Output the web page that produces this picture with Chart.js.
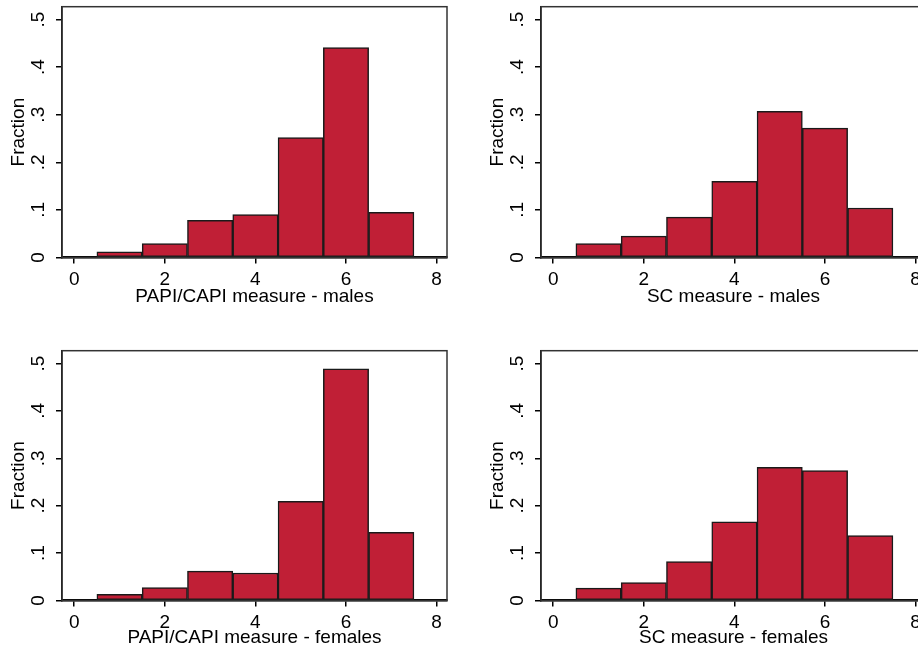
<!DOCTYPE html>
<html>
<head>
<meta charset="utf-8">
<script src="https://cdn.jsdelivr.net/npm/chart.js@4.4.1/dist/chart.umd.min.js"></script>
<style>
  html, body { margin: 0; padding: 0; background: #fff; width: 918px; height: 650px; overflow: hidden; position: relative; }
  canvas { position: absolute; }
</style>
</head>
<body>
<canvas id="c1"></canvas>
<canvas id="c2"></canvas>
<canvas id="c3"></canvas>
<canvas id="c4"></canvas>
<script>
// bin centres (width 1) and fractions
const bins = [1, 2, 3, 4, 5, 6, 7];
const papiMales   = [0.012, 0.029, 0.078, 0.090, 0.252, 0.441, 0.095];
const scMales     = [0.029, 0.045, 0.085, 0.160, 0.307, 0.272, 0.104];
const papiFemales = [0.013, 0.027, 0.062, 0.058, 0.209, 0.489, 0.144];
const scFemales   = [0.026, 0.038, 0.082, 0.166, 0.281, 0.274, 0.137];

const xTicks = [0, 2, 4, 6, 8];
const yTicks = [0, 0.1, 0.2, 0.3, 0.4, 0.5];
const yTickLabels = ['0', '.1', '.2', '.3', '.4', '.5'];

const FONT = { family: '"Liberation Sans", Arial, sans-serif', size: 19 };

// box round the plot region
const framePlugin = {
  id: 'frame',
  afterDraw(chart) {
    const { ctx, chartArea: a } = chart;
    ctx.save();
    ctx.strokeStyle = '#333';
    ctx.lineWidth = 1.5;
    ctx.strokeRect(a.left, a.top, a.right - a.left, a.bottom - a.top);
    ctx.restore();
  }
};

function makePanel(id, values, title, pos) {
  const cv = document.getElementById(id);
  cv.width = pos.w;
  cv.height = pos.h;
  cv.style.left = pos.left + 'px';
  cv.style.top = pos.top + 'px';

  new Chart(cv.getContext('2d'), {
    type: 'bar',
    data: {
      datasets: [{
        data: bins.map((b, i) => ({ x: b, y: values[i] })),
        backgroundColor: '#c01f36',
        borderColor: '#1a1a1a',
        borderWidth: 1.5,
        borderSkipped: false,
        barPercentage: 1,
        categoryPercentage: 1
      }]
    },
    options: {
      responsive: false,
      animation: false,
      layout: { padding: { top: pos.padTop, right: 13, left: 0, bottom: 0 } },
      plugins: { legend: { display: false }, tooltip: { enabled: false } },
      scales: {
        x: {
          type: 'linear',
          offset: false,
          min: -0.27,
          max: 8.23,
          afterBuildTicks: s => { s.ticks = xTicks.map(v => ({ value: v })); },
          afterFit: s => { s.height = pos.xAxisH; s.paddingLeft = 0; s.paddingRight = 0; },
          ticks: { color: '#000', font: FONT, padding: 5, maxRotation: 0, autoSkip: false },
          grid: { display: true, offset: false, drawOnChartArea: false, tickLength: 6, color: '#000', lineWidth: 1.5 },
          border: { display: true, color: '#000', width: 2.5 },
          title: { display: true, text: title, color: '#000', font: FONT, padding: { top: 0, bottom: pos.titlePad } }
        },
        y: {
          min: 0,
          max: 0.527,
          afterBuildTicks: s => { s.ticks = yTicks.map(v => ({ value: v })); },
          afterFit: s => { s.width = 62; s.paddingTop = 0; s.paddingBottom = 0; },
          ticks: {
            color: '#000', font: FONT, padding: 9, minRotation: 90, maxRotation: 90,
            crossAlign: 'center', autoSkip: false,
            callback: (v, i) => yTickLabels[i]
          },
          grid: { display: true, drawOnChartArea: false, tickLength: 6, color: '#000', lineWidth: 1.5 },
          border: { display: true, color: '#000', width: 1.5 },
          title: { display: true, text: 'Fraction', color: '#000', font: FONT, padding: { top: 7.6, bottom: 0 } }
        }
      }
    },
    plugins: [framePlugin]
  });
}

const topRow = { top: 0, w: 460, h: 325, padTop: 6.7, xAxisH: 67.5, titlePad: 16.6 };
const botRow = { top: 344, w: 460, h: 306, padTop: 6.7, xAxisH: 49.5, titlePad: 0.6 };

makePanel('c1', papiMales, 'PAPI/CAPI measure - males', Object.assign({ left: 0 }, topRow));
makePanel('c2', scMales, 'SC measure - males', Object.assign({ left: 478.5 }, topRow));
makePanel('c3', papiFemales, 'PAPI/CAPI measure - females', Object.assign({ left: 0 }, botRow));
makePanel('c4', scFemales, 'SC measure - females', Object.assign({ left: 478.5 }, botRow));
</script>
</body>
</html>
